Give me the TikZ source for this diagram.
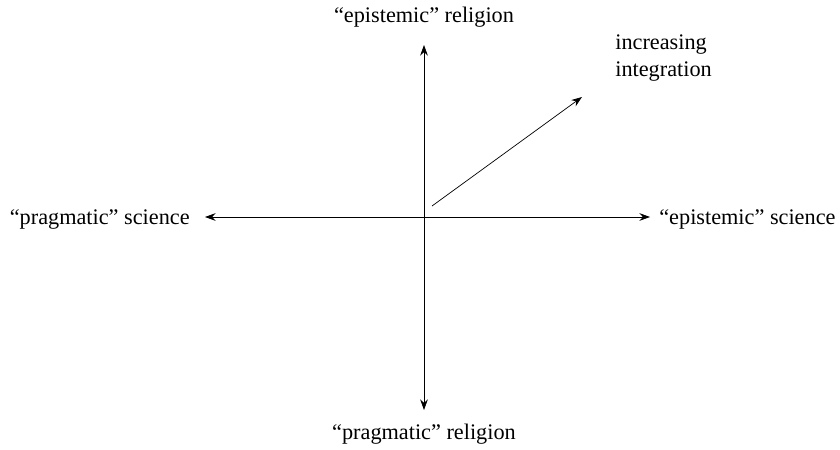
\documentclass[tikz,border=0pt]{standalone}
\usepackage{fontspec}
\setmainfont{Liberation Serif}
\usetikzlibrary{positioning,arrows.meta}

\begin{document}
\begin{tikzpicture}[x=0.03cm,y=-0.03cm,>={Stealth[length=9pt,width=6.5pt]},semithick,
    lbl/.style={font=\fontsize{19}{23}\selectfont,inner sep=0pt}]
  \useasboundingbox (0,0) rectangle (840,450);
  \coordinate (top) at (424,45);
  \coordinate (bot) at (424,410);
  \coordinate (lft) at (205,217);
  \coordinate (rgt) at (650,217);
  \coordinate (dstart) at (432,206);
  \coordinate (dend) at (582,97);
  \node[lbl,anchor=south] (er) at (424,28) {``epistemic'' religion};
  \node[lbl,anchor=north] (pr) at (424,424) {``pragmatic'' religion};
  \node[lbl,anchor=east] (ps) at (190,219) {``pragmatic'' science};
  \node[lbl,anchor=west] (es) at (659,219) {``epistemic'' science};
  \node[lbl,anchor=north west,align=left] (ii) at (615,34) {increasing\\integration};
  \path[<->]
    (top) edge (bot)
    (lft) edge (rgt);
  \path[->] (dstart) edge (dend);
\end{tikzpicture}
\end{document}
